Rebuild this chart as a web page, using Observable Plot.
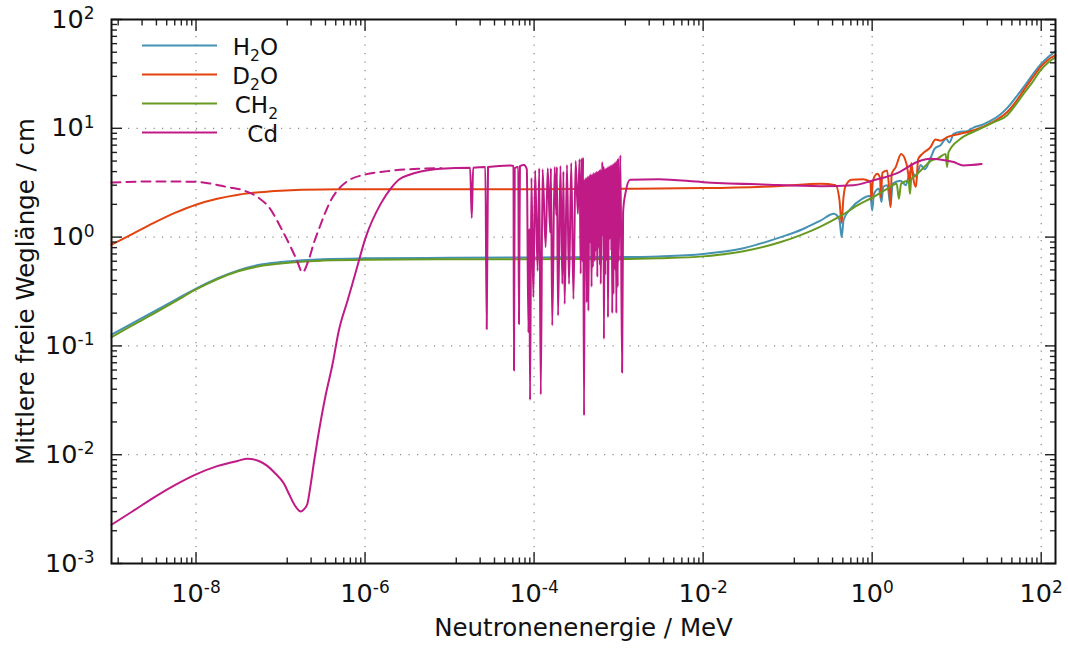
<!DOCTYPE html>
<html><head><meta charset="utf-8">
<script src="https://cdn.jsdelivr.net/npm/d3@7"></script>
<script src="https://cdn.jsdelivr.net/npm/@observablehq/plot@0.6"></script>
<style>body{margin:0;background:#fff;} svg{display:block}</style>
</head><body><div id="chart"></div>
<script>
// ---- data: [energy in MeV, mean free path in cm] ----
const h2o = [[1e-9,0.127],[1.78e-9,0.162],[3.16e-9,0.206],[5.62e-9,0.264],[1e-8,0.336],[1.78e-8,0.417],[3.16e-8,0.495],[5.62e-8,0.556],[1e-7,0.589],[1.78e-7,0.612],[3.16e-7,0.627],[1e-6,0.638],[1e-5,0.645],[1e-4,0.65],[1e-3,0.655],[3e-3,0.665],[1e-2,0.7],[3e-2,0.79],[0.083,1.0],[0.15,1.18],[0.245,1.42],[0.352,1.64],[0.41,1.45],[0.435,1.0],[0.46,1.45],[0.556,1.82],[0.76,2.25],[0.955,2.4],[1.0,1.76],[1.05,2.5],[1.2,2.78],[1.29,2.1],[1.35,2.9],[1.51,3.0],[1.65,1.95],[1.75,3.1],[2.17,3.3],[2.5,3.0],[2.85,4.1],[3.3,3.6],[3.74,4.6],[4.2,4.2],[4.9,5.3],[5.5,6.5],[6.45,7.0],[7.5,8.0],[8.2,7.4],[9.2,8.9],[11,9.3],[13.3,9.4],[16,10.2],[19,10.6],[25,11.7],[32,13.2],[40,15.5],[50,19.2],[62,23.9],[80,31.5],[98,38.5],[120,45],[147.6,51]];
const d2o = [[1e-9,0.851],[1.78e-9,1.072],[3.16e-9,1.349],[5.62e-9,1.667],[1e-8,1.986],[1.78e-8,2.249],[3.16e-8,2.455],[5.62e-8,2.588],[1e-7,2.673],[1.78e-7,2.723],[3.16e-7,2.742],[1e-6,2.75],[1e-5,2.755],[1e-4,2.76],[1e-3,2.78],[1e-2,2.82],[0.083,2.95],[0.245,3.09],[0.37,3.0],[0.41,2.2],[0.435,1.35],[0.455,2.2],[0.48,2.9],[0.57,3.37],[0.78,3.4],[0.955,3.2],[0.98,2.15],[1.02,3.3],[1.15,3.82],[1.24,3.5],[1.27,2.3],[1.32,3.9],[1.5,4.1],[1.6,2.6],[1.65,1.88],[1.7,3.8],[1.9,4.4],[2.2,5.8],[2.55,4.7],[2.8,3.2],[2.9,4.8],[3.1,3.3],[3.3,2.9],[3.5,5.2],[3.9,5.8],[4.9,6.7],[5.6,7.9],[6.45,7.7],[7.7,8.3],[11,8.9],[16,9.6],[22,10.6],[30,12],[39.6,14.1],[50,17.5],[62,22.3],[80,29.5],[98,36.5],[120,42.5],[147.6,47]];
const ch2 = [[1e-9,0.12],[1.78e-9,0.155],[3.16e-9,0.198],[5.62e-9,0.255],[1e-8,0.33],[1.78e-8,0.41],[3.16e-8,0.485],[5.62e-8,0.54],[1e-7,0.572],[1.78e-7,0.595],[3.16e-7,0.608],[1e-6,0.62],[1e-5,0.625],[1e-4,0.627],[1e-3,0.63],[3e-3,0.64],[1e-2,0.665],[3e-2,0.74],[0.083,0.9],[0.15,1.06],[0.245,1.25],[0.435,1.58],[0.7,2.0],[1.0,2.3],[1.5,2.78],[1.95,3.1],[2.07,2.25],[2.2,3.1],[2.7,3.3],[2.8,2.5],[2.9,3.4],[3.27,3.7],[4.0,4.3],[4.9,5.0],[6.0,5.3],[7.4,5.8],[7.7,4.4],[8.0,6.0],[11.1,8.0],[17.5,9.6],[27.6,11.4],[39.6,13.2],[50,16.5],[62,20.8],[80,27],[98,34],[120,40],[147.6,45]];
const cdTotal = [[1e-9,2.27e-3],[1.78e-9,3.02e-3],[3.16e-9,4.03e-3],[5.62e-9,5.25e-3],[1e-8,6.6e-3],[1.78e-8,7.85e-3],[3.16e-8,8.8e-3],[4.06e-8,9.2e-3],[5.62e-8,8.7e-3],[6.97e-8,7.9e-3],[8.4e-8,6.9e-3],[1.1e-7,5.4e-3],[1.26e-7,4.35e-3],[1.45e-7,3.5e-3],[1.74e-7,3.0e-3],[1.9e-7,3.16e-3],[2.07e-7,3.5e-3],[2.28e-7,5.4e-3],[2.5e-7,8.8e-3],[2.73e-7,1.35e-2],[3.43e-7,0.0357],[4.11e-7,0.067],[4.89e-7,0.138],[6.2e-7,0.26],[7.76e-7,0.478],[1.02e-6,1.0],[1.53e-6,2.02],[2.01e-6,2.79],[2.55e-6,3.4],[3.29e-6,3.72],[4.56e-6,4.0],[7.8e-6,4.24],[1.75e-5,4.35],[1.83e-5,1.5],[1.9e-5,4.35],[2.65e-5,4.4],[2.75e-5,0.143],[2.85e-5,4.4],[5.28e-5,4.56],
[5.7e-5,4.5],[5.78e-5,0.0593],[5.9e-5,4.3],[6.5e-5,4.4],[6.62e-5,0.159],[6.8e-5,4.5],[7.6e-5,4.6],[8.2e-5,4.2],[8.57e-5,0.133],[8.8e-5,1.2],[8.95e-5,0.0318],[9.3e-5,3.5],[9.8e-5,0.28],[1.03e-4,4.1],[1.1e-4,0.49],[1.15e-4,4.3],[1.2e-4,0.0357],[1.26e-4,4.2],[1.37e-4,0.81],[1.45e-4,4.3],[1.55e-4,1.1],[1.58e-4,4.3],[1.64e-4,0.154],[1.75e-4,4.4],[1.83e-4,1.6],[1.86e-4,4.4],[1.92e-4,0.19],[2.05e-4,4.5],[2.16e-4,0.37],[2.22e-4,4.0],[2.3e-4,0.243],[2.45e-4,4.6],[2.59e-4,0.37],[2.75e-4,4.8],[2.92e-4,0.27],[3.1e-4,5.0],[3.3e-4,1.64],[3.45e-4,5.2],[3.56e-4,0.46],[3.65e-4,5.3],[3.72e-4,0.6],[3.8e-4,5.4],[3.9e-4,0.0229],[3.98e-4,3.4],[4.05e-4,1.3],[4.12e-4,3.5],[4.19e-4,0.25],[4.3e-4,3.6],[4.39e-4,0.21],[4.5e-4,3.7],[4.6e-4,0.9],[4.7e-4,3.8],[4.78e-4,0.35],[4.9e-4,3.8],[4.96e-4,0.53],[5.1e-4,3.9],[5.22e-4,0.6],[5.3e-4,3.9],[5.36e-4,0.75],[5.5e-4,4.0],[5.6e-4,0.43],[5.7e-4,4.0],[5.78e-4,0.8],[5.9e-4,4.1],[6.02e-4,0.55],[6.08e-4,4.2],[6.14e-4,0.37],[6.4e-4,4.9],[6.55e-4,1.0],[6.62e-4,4.5],[6.7e-4,0.116],[6.85e-4,4.2],[6.95e-4,0.45],[7.1e-4,4.3],[7.3e-4,0.6],[7.38e-4,4.4],[7.48e-4,0.183],[7.7e-4,4.5],[7.8e-4,0.95],[8.0e-4,4.5],[8.2e-4,0.75],[8.3e-4,4.6],[8.4e-4,0.2],[8.6e-4,4.7],[8.68e-4,0.3],[8.9e-4,4.8],[9.1e-4,0.5],[9.25e-4,4.9],[9.4e-4,0.2],[9.6e-4,5.1],[9.75e-4,0.35],[9.9e-4,5.3],[1.0e-3,0.6],[1.05e-3,5.64],[1.1e-3,0.057],
[1.13e-3,1.7],[1.2e-3,2.5],[1.37e-3,3.37],[3e-3,3.4],[1e-2,3.2],[0.05,3.05],[0.245,2.94],[0.6,3.0],[1.0,3.3],[2.1,3.96],[3.4,4.9],[4.9,5.25],[6.0,5.2],[9.2,4.9],[12,4.56],[19.7,4.7]];
const cdScatter = [[1e-9,3.17],[3e-9,3.25],[1e-8,3.22],[1.5e-8,3.1],[2.35e-8,2.88],[3.7e-8,2.68],[5.5e-8,2.3],[7.3e-8,1.88],[1.05e-7,1.15],[1.32e-7,0.81],[1.55e-7,0.62],[1.82e-7,0.475],[2.17e-7,0.63],[2.5e-7,0.9],[2.85e-7,1.19],[3.93e-7,2.17],[6.2e-7,3.27],[1.02e-6,3.77],[1.84e-6,4.04],[4.2e-6,4.25],[8e-6,4.3]];

const seriesNames = [["H","2","O"],["D","2","O"],["CH","2",""],["Cd","",""]];
const seriesColors = ["#4592b4","#e4420e","#689a21","#bf1a86"];

const xMajor = [1e-8,1e-6,1e-4,1e-2,1,100];
const minorBases = [1e-10,1e-8,1e-6,1e-4,1e-2,1];
const minorSteps = [12,23,34,45,56,67,78,89];
const xMinor = minorBases.flatMap(b => minorSteps.map(s => b*s));
const yMajor = [1e-3,1e-2,1e-1,1,10,100];
const yMinor = [1e-3,1e-2,1e-1,1,10].flatMap(b => [2,3,4,5,6,7,8,9].map(s => b*s));
const xTitle = "Neutronenenergie / MeV";
const yTitle = "Mittlere freie Weglänge / cm";

const font = "DejaVu Sans";
const sup = v => "10^" + Math.round(Math.log10(v));
const blank = () => "";
const grid = {stroke:"#888", strokeOpacity:1, strokeWidth:1.2, strokeDasharray:"1.2,7.3"};
const tk = {stroke:"#222", strokeWidth:1.4, tickFormat: blank, label: null};
const X = d => d[0], Y = d => d[1];
const ln = {x: X, y: Y, strokeWidth: 2, curve: "monotone-x"};

const plot = Plot.plot({
  width: 1068, height: 653,
  marginLeft: 111, marginRight: 13, marginTop: 19, marginBottom: 90,
  style: {fontFamily: font, fontSize: "24px", color: "#111", background: "#fff"},
  x: {type: "log", domain: [1e-9, 147.6]},
  y: {type: "log", domain: [1e-3, 100]},
  marks: [
    Plot.gridX(xMajor, grid),
    Plot.gridY(yMajor.slice(1, -1), grid),
    Plot.line(h2o, {...ln, stroke: seriesColors[0]}),
    Plot.line(d2o, {...ln, stroke: seriesColors[1]}),
    Plot.line(ch2, {...ln, stroke: seriesColors[2]}),
    Plot.line(cdScatter, {...ln, stroke: seriesColors[3], strokeDasharray: "9,6"}),
    Plot.line(cdTotal, {...ln, stroke: seriesColors[3]}),
    Plot.axisX(xMajor, {...tk, anchor: "bottom", tickSize: 11, dy: -11}),
    Plot.axisX(xMinor, {...tk, anchor: "bottom", tickSize: 5.5, dy: -5.5}),
    Plot.axisX(xMajor, {...tk, anchor: "top", tickSize: 11, dy: 11}),
    Plot.axisX(xMinor, {...tk, anchor: "top", tickSize: 5.5, dy: 5.5}),
    Plot.axisY(yMajor, {...tk, anchor: "left", tickSize: 11, dx: 11}),
    Plot.axisY(yMinor, {...tk, anchor: "left", tickSize: 6, dx: 6}),
    Plot.axisY(yMajor, {...tk, anchor: "right", tickSize: 11, dx: -11}),
    Plot.axisY(yMinor, {...tk, anchor: "right", tickSize: 6, dx: -6}),
    Plot.axisX(xMajor, {anchor: "bottom", tickSize: 0, tickPadding: 20, tickFormat: sup, label: null, fontSize: 25.5}),
    Plot.axisY(yMajor, {anchor: "left", tickSize: 0, tickPadding: 17, tickFormat: sup, label: null, fontSize: 25.5}),
    Plot.frame({stroke: "#111", strokeWidth: 2}),
    Plot.text([xTitle], {frameAnchor: "bottom", dy: 72, fontSize: 24.5}),
    Plot.text([yTitle], {frameAnchor: "left", textAnchor: "middle", dx: -85, rotate: -90, fontSize: 24.5})
  ]
});
document.getElementById("chart").appendChild(plot);

// superscripts in tick labels
d3.select(plot).selectAll('g[aria-label="x-axis tick label"] text, g[aria-label="y-axis tick label"] text').each(function() {
  const t = this.textContent;
  if (!t.includes("^")) return;
  const [b, e] = t.split("^");
  const s = d3.select(this);
  s.text(null);
  s.append("tspan").text(b);
  s.append("tspan").attr("dy", -8.6).attr("font-size", "17px").text(e);
});

// legend
const lg = d3.select(plot).append("g").attr("font-family", font).attr("font-size", 23).attr("fill", "#111");
seriesNames.forEach((parts, i) => {
  const y = 45.5 + 29 * i;
  lg.append("line").attr("x1", 142).attr("x2", 217).attr("y1", y).attr("y2", y)
    .attr("stroke", seriesColors[i]).attr("stroke-width", 2);
  const t = lg.append("text").attr("x", 278).attr("y", y + 9.5).attr("text-anchor", "end");
  t.append("tspan").text(parts[0]);
  if (parts[1]) t.append("tspan").attr("dy", 5.5).attr("font-size", "15.5px").text(parts[1]);
  if (parts[2]) t.append("tspan").attr("dy", -5.5).text(parts[2]);
});
</script></body></html>
